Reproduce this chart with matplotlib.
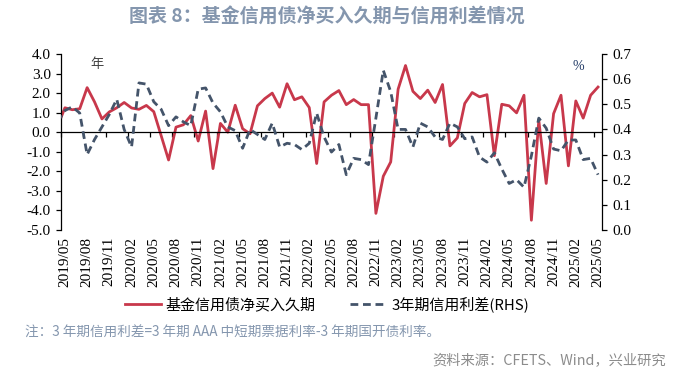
import numpy as np
import pandas as pd
import matplotlib
matplotlib.use('Agg')
import matplotlib.pyplot as plt
from matplotlib.ticker import FormatStrFormatter

plt.rcParams['font.family'] = ['Noto Sans CJK SC', 'DejaVu Sans']

# monthly data, 2019/04 (cut off at the left edge) to 2025/05
months = list(pd.period_range('2019-04', '2025-05', freq='M').strftime('%Y/%m'))

# fund credit bond net buying duration (years, left axis)
duration = [0.30, 1.25, 1.15, 1.20, 2.28, 1.55, 0.68, 1.04, 1.25, 1.52,
            1.24, 1.17, 1.37, 1.05, -0.18, -1.42, 0.26, 0.38, 0.85, -0.45,
            1.08, -1.86, 0.45, 0.00, 1.38, 0.18, -0.08, 1.35, 1.72, 2.00,
            1.28, 2.48, 1.66, 1.81, 1.26, -1.60, 1.55, 1.89, 2.13, 1.41,
            1.67, 1.41, 1.41, -4.15, -2.25, -1.52, 2.20, 3.41, 2.09, 1.72,
            2.15, 1.52, 2.44, -0.70, -0.29, 1.47, 2.03, 1.81, 1.92, -1.20,
            1.43, 1.35, 0.99, 1.89, -4.50, 0.61, -2.62, 0.95, 1.89, -1.72,
            1.60, 0.72, 1.89, 2.31]

# 3Y credit spread (%, right axis)
spread = [0.43, 0.475, 0.49, 0.465, 0.30, 0.36, 0.41, 0.46, 0.52, 0.40,
          0.33, 0.585, 0.58, 0.51, 0.48, 0.415, 0.45, 0.43, 0.415, 0.56,
          0.565, 0.505, 0.47, 0.41, 0.395, 0.325, 0.40, 0.38, 0.36, 0.425,
          0.33, 0.345, 0.34, 0.32, 0.345, 0.465, 0.37, 0.31, 0.34, 0.22,
          0.285, 0.28, 0.26, 0.445, 0.635, 0.55, 0.40, 0.40, 0.33, 0.425,
          0.41, 0.37, 0.36, 0.425, 0.41, 0.363, 0.37, 0.29, 0.27, 0.307,
          0.243, 0.185, 0.20, 0.17, 0.295, 0.445, 0.405, 0.322, 0.315, 0.358,
          0.358, 0.28, 0.285, 0.22]

red = '#C8384B'
navy = '#44546A'
title_color = '#8496AE'

x = np.arange(len(months))

fig = plt.figure(figsize=(6.91, 3.76), dpi=100)
ax = fig.add_axes([0.0886, 0.3883, 0.7822, 0.4681])
ax2 = ax.twinx()

ax.plot(x, duration, color=red, lw=2.0, label='基金信用债净买入久期')
ax2.plot(x, spread, color=navy, lw=2.0, linestyle=(0, (2.8, 1.7)),
         label='3年期信用利差(RHS)')

ax.set_xlim(0.5, len(months) - 0.5)
ax.set_ylim(-5, 4)
ax.set_yticks(np.arange(-5, 4.1, 1))
ax.yaxis.set_major_formatter(FormatStrFormatter('%.1f'))
ax2.set_ylim(0, 0.7)
ax2.set_yticks(np.arange(0, 0.71, 0.1))
ax2.yaxis.set_major_formatter(FormatStrFormatter('%.1f'))

# spines: left + right axes, x axis line at zero
ax.spines['top'].set_visible(False)
ax.spines['right'].set_visible(False)
ax.spines['bottom'].set_position(('data', 0))
for s in ['top', 'bottom', 'left']:
    ax2.spines[s].set_visible(False)
for s in [ax.spines['left'], ax.spines['bottom'], ax2.spines['right']]:
    s.set_linewidth(0.9)
    s.set_color('black')

ax.set_xticks(np.arange(1, len(months), 3) - 0.5)
ax.tick_params(axis='x', labelbottom=False, direction='out', length=3.8, width=0.9)
ax.tick_params(axis='y', direction='out', length=3.5, width=0.9, pad=4,
               labelsize=11, labelfontfamily='Liberation Serif')
ax2.tick_params(axis='y', direction='out', length=3.5, width=0.9, pad=4,
                labelsize=11, labelfontfamily='Liberation Serif')

# date labels along the bottom of the plot area
sec = ax.secondary_xaxis('bottom')
sec.set_xticks(x[1::3], labels=months[1::3])
sec.spines['bottom'].set_visible(False)
sec.tick_params(length=0, pad=5, rotation=90, labelsize=11,
                labelfontfamily='Liberation Serif')

ax.text(0.066, 0.943, '年', transform=ax.transAxes, fontsize=9.5,
        color='#404040', ha='center', va='center')
ax2.text(0.956, 0.93, '%', transform=ax2.transAxes, fontsize=10,
         color='#1F3864', ha='center', va='center', family='Liberation Serif')

fig.text(327 / 691, 1 - 17 / 376, '图表 8：基金信用债净买入久期与信用利差情况',
         ha='center', va='center', fontsize=13.7, fontweight='bold', color=title_color)

h1, l1 = ax.get_legend_handles_labels()
h2, l2 = ax2.get_legend_handles_labels()
fig.legend(h1 + h2, l1 + l2, loc='center', bbox_to_anchor=(327 / 691, 1 - 304 / 376),
           ncol=2, frameon=False, fontsize=10.8, handlelength=2.4,
           handletextpad=0.35, columnspacing=2.3)

fig.text(25 / 691, 1 - 333 / 376, '注：3 年期信用利差=3 年期 AAA 中短期票据利率-3 年期国开债利率。',
         ha='left', va='center', fontsize=9.8, color=title_color)
fig.text(666 / 691, 1 - 360 / 376, '资料来源：CFETS、Wind，兴业研究',
         ha='right', va='center', fontsize=10.3, color='#8C8C8C')

fig.savefig('out.png', dpi=100)
